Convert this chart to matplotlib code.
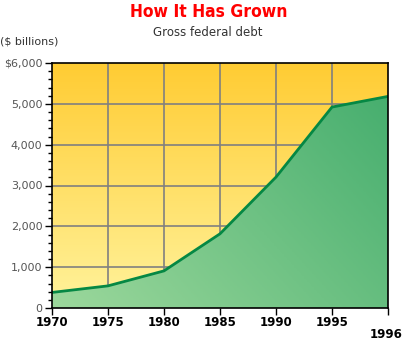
import numpy as np
import matplotlib
matplotlib.use("Agg")
import matplotlib.pyplot as plt
from matplotlib.colors import LinearSegmentedColormap
from matplotlib import font_manager

years = [1970, 1975, 1980, 1985, 1990, 1995, 1996]
debt = [381, 542, 909, 1817, 3206, 4921, 5182]
xtick_years = [1970, 1975, 1980, 1985, 1990, 1995]
ytick_vals = [0, 1000, 2000, 3000, 4000, 5000, 6000]
ytick_labels = ["0", "1,000", "2,000", "3,000", "4,000", "5,000", "$6,000"]

def fwd(x):
    x = np.asarray(x, dtype=float)
    return np.where(x <= 1995, x, 1995 + (x - 1995) * 5)

def inv(x):
    x = np.asarray(x, dtype=float)
    return np.where(x <= 1995, x, 1995 + (x - 1995) / 5)

fig = plt.figure(figsize=(4.05, 3.46), dpi=100)
ax = fig.add_axes([52/405, 38/346, 336/405, 245/346])
ax.set_xscale('function', functions=(fwd, inv))
ax.set_xlim(1970, 1996)
ax.set_ylim(0, 6000)

# background gradient
bg = LinearSegmentedColormap.from_list('bg', ['#FFF39C', '#FFCC33'])
grad = np.linspace(0, 1, 256).reshape(-1, 1)
ax.imshow(grad, cmap=bg, origin='lower', extent=[0, 1, 0, 1],
          transform=ax.transAxes, aspect='auto', zorder=0)

# grid
for y in ytick_vals[1:-1]:
    ax.axhline(y, color='#808080', lw=1.2, zorder=1)
for x in xtick_years[1:]:
    ax.axvline(x, color='#808080', lw=1.2, zorder=1)

# green area with gradient
poly = ax.fill_between(years, debt, 0, color='none', zorder=2)
gc = LinearSegmentedColormap.from_list('gr', ['#9CD89C', '#42AC6C'])
xx, yy = np.meshgrid(np.linspace(0, 1, 200), np.linspace(0, 1, 200))
g = (xx * 0.6 + yy * 0.4)
im = ax.imshow(g, cmap=gc, origin='lower', extent=[0, 1, 0, 1],
               transform=ax.transAxes, aspect='auto', zorder=2)
im.set_clip_path(poly.get_paths()[0], transform=ax.transData)
ax.plot(years, debt, color='#058844', lw=2.0, zorder=3, solid_joinstyle='miter')

# axes styling
for s in ['left', 'bottom', 'top', 'right']:
    ax.spines[s].set_color('black')
    ax.spines[s].set_linewidth(1.2)
    ax.spines[s].set_zorder(4)

ax.set_yticks(ytick_vals)
ax.set_yticklabels(ytick_labels, color='#555555', fontsize=8)
ax.set_yticks(np.arange(0, 6001, 200), minor=True)
ax.tick_params(axis='y', which='major', length=5, width=1, direction='out', pad=2)
ax.tick_params(axis='y', which='minor', length=3, width=1, direction='out')
ax.set_xticks(xtick_years + [1996])
ax.set_xticklabels([str(y) for y in xtick_years] + [""], fontweight='bold', fontsize=8.5)
ax.tick_params(axis='x', length=5, width=1, direction='out', pad=1)

names = {f.name for f in font_manager.fontManager.ttflist}
title_family = ['Liberation Sans Narrow'] if 'Liberation Sans Narrow' in names else ['DejaVu Sans']
fig.text(209/405, 1 - 12/346, "How It Has Grown", color='#FF0000',
         fontsize=12.5, fontweight='bold', family=title_family, fontstretch='condensed',
         ha='center', va='center')
fig.text(208/405, 1 - 32/346, "Gross federal debt", color='#333333',
         fontsize=8.5, ha='center', va='center')
fig.text(0.0, 1 - 42/346, "($ billions)", color='#333333', fontsize=8,
         ha='left', va='center')
fig.text(403/405, 1 - 335/346, "1996", fontsize=8.5, fontweight='bold',
         ha='right', va='center')

fig.savefig('out.png', dpi=100)
